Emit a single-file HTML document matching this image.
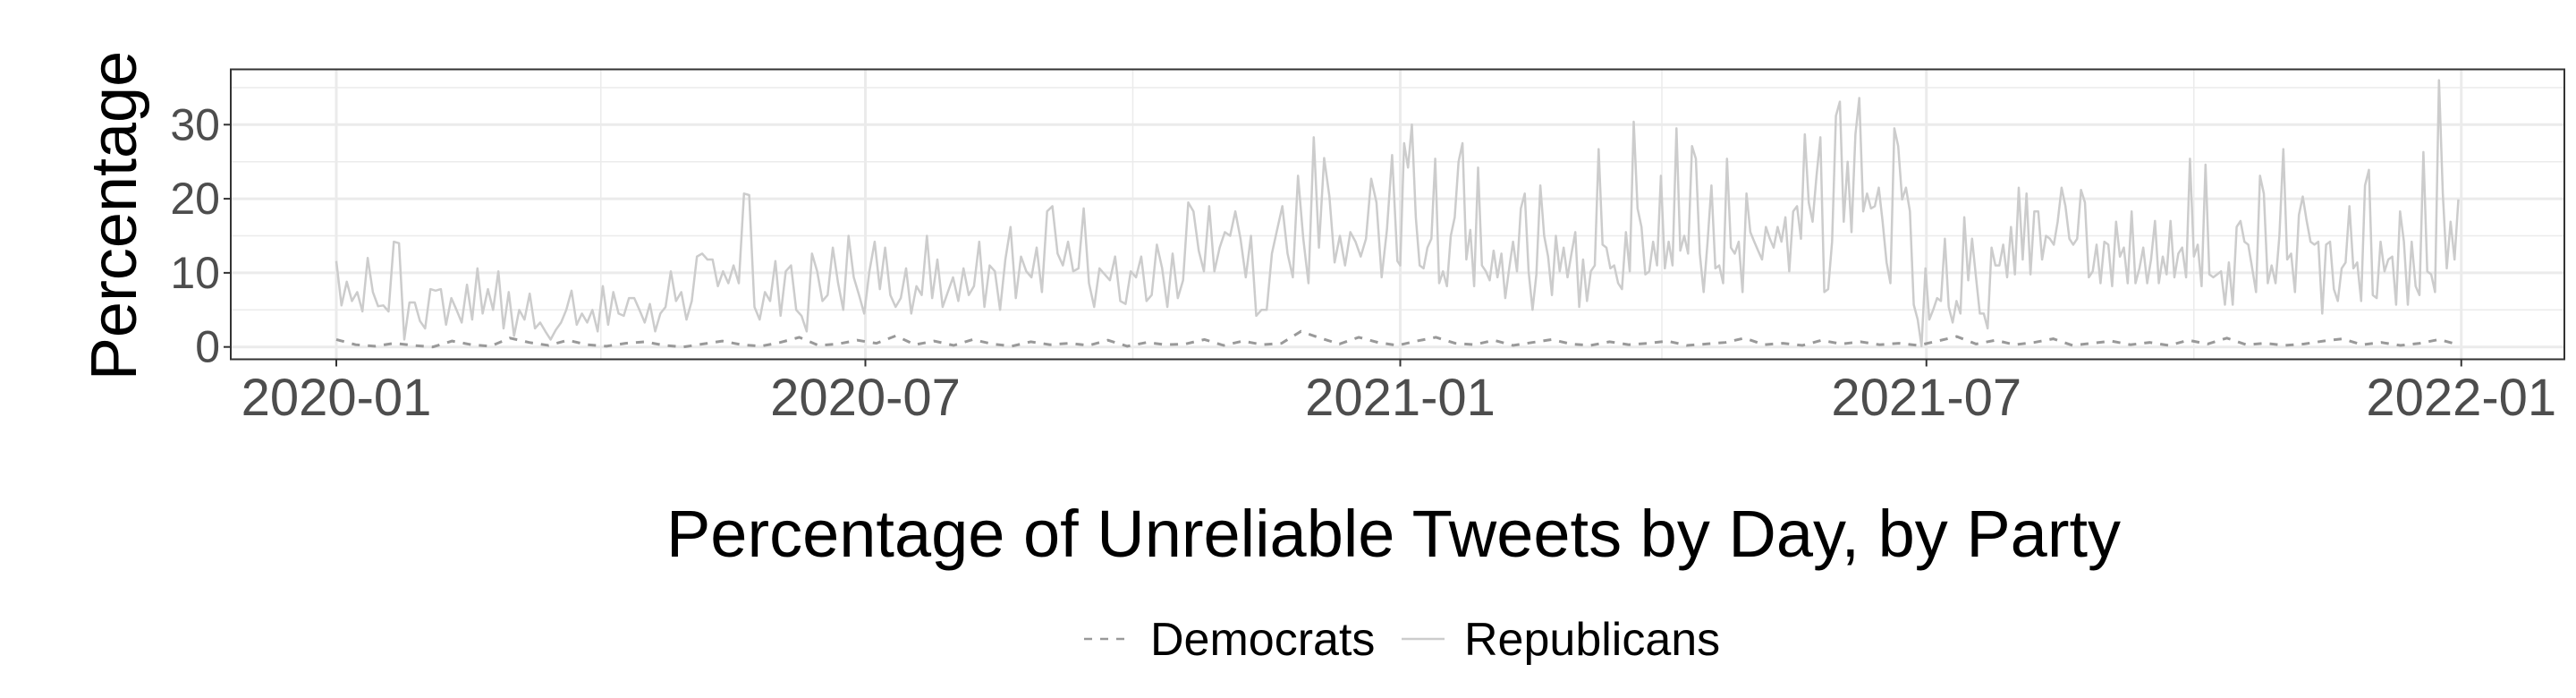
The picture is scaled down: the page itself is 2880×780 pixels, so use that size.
<!DOCTYPE html>
<html><head><meta charset="utf-8"><style>
html,body{margin:0;padding:0;background:#fff;}
svg{display:block;font-family:"Liberation Sans",Arial,sans-serif;}
</style></head><body>
<svg id="chart" width="2880" height="780" viewBox="0 0 2880 780" xmlns="http://www.w3.org/2000/svg">
<rect width="2880" height="780" fill="#fff"/>
<g id="grid"></g>
<g id="series"></g>
<rect x="258" y="77.5" width="2609" height="324" fill="none" stroke="#333" stroke-width="2"/>
<g id="axes"></g>
<text transform="translate(152,241) rotate(-90)" text-anchor="middle" font-size="72" fill="#000">Percentage</text>
<text x="1558" y="622" text-anchor="middle" font-size="74" fill="#000">Percentage of Unreliable Tweets by Day, by Party</text>
<g>
<g>
<line x1="1212" y1="714" x2="1260" y2="714" stroke="#999" stroke-width="2.5" stroke-dasharray="9 9"/>
<text x="1286" y="732" font-size="52" fill="#000">Democrats</text>
</g>
<g>
<line x1="1567" y1="714" x2="1615" y2="714" stroke="#ccc" stroke-width="2.5"/>
<text x="1637" y="732" font-size="52" fill="#000">Republicans</text>
</g>
</g>
</svg>
<script>
const yTicks = [0, 10, 20, 30];
const yMinor = [5, 15, 25, 35];
const xTickLabels = ["2020-01", "2020-07", "2021-01", "2021-07", "2022-01"];
const xTickDays = [0, 182, 366, 547, 731];
const xMinorDays = [91, 274, 456, 639];
// Republicans 2020 (days 0..365)
const rep2020 = [11.6,5.6,8.8,6.2,7.4,4.8,12,7.4,5.5,5.6,4.8,14.2,14,1,6,6,3.5,2.5,7.8,7.6,7.8,3,6.6,5,3.3,8.4,3.7,10.6,4.5,7.8,5,10.2,2.5,7.4,1.5,5,3.7,7.2,2.5,3.3,2.1,1,2.3,3.3,5,7.6,3,4.5,3.3,5,2.1,8.2,3,7.4,4.5,4.2,6.6,6.6,5,3.3,5.8,2.1,4.5,5.4,10.2,6.2,7.4,3.7,6.2,12.2,12.6,11.8,11.8,8.2,10.2,8.6,11,8.6,20.7,20.5,5.4,3.7,7.4,6.2,11.6,4.2,10.2,11,5,4.2,2.1,12.6,10.2,6.2,7,13.4,8.6,5,15,9.4,7,4.5,10.2,14.2,7.8,13.4,7,5.4,6.6,10.6,4.5,8.2,7,15,6.6,11.8,5.4,7.4,9.4,6.2,10.6,7,8.2,14.2,5.4,11,10.2,5,11.8,16.2,6.6,12.2,10.2,9.4,13.4,7.4,18.3,19,12.6,11,14.2,10.2,10.6,18.7,8.6,5.4,10.6,9.8,9,12.2,6.2,5.8,10.2,9.4,12.2,6.2,7,13.8,10.6,5.4,12.6,6.6,9,19.5,18.3,13,10.2,19,10.2,13.4,15.5,15,18.3,14.6,9.4,15,4.2,5,5,12.6,15.8,19,12.6,9.4,23.1,14.6,8.6,28.3,13.4,25.5,20.3,11.4,15,11,15.5,14.2,12.2,14.6,22.7,19.5,9.4,15.8,25.9,11.6];
// Republicans 2021 (days 366..730)
const rep2021 = [11,27.5,24.2,30,17.5,11,10.6,13.4,14.6,25.4,8.6,10.2,8.2,15,17.5,25,27.5,11.8,15.8,8.2,24.2,11,10.2,9,13,9.4,12.6,6.6,10.6,14.2,10.2,18.7,20.7,10.2,5,9.8,21.8,15,12.2,7,15,10.2,13.4,9.4,12.6,15.5,5.4,11.8,6.2,10.2,11,26.7,13.8,13.4,10.6,11,8.6,7.8,15.5,10.2,30.4,18.7,16.2,9.8,10.2,14.2,11,23.1,10.6,14.2,11,29.5,13,15,12.6,27.1,25.4,12.6,7.4,14.2,21.8,10.6,11,8.6,25.4,13.4,12.6,14.2,7.4,20.7,15.5,14.2,13,11.8,16.2,14.6,13.4,16.2,14.2,17.5,10.2,18.3,19,14.6,28.7,19.5,16.9,23.1,28.3,7.4,7.8,14.2,31.2,33.1,16.9,25,15.5,28.7,33.6,18.3,20.7,18.7,19,21.5,16.9,11.4,8.6,29.5,27.1,19.9,21.5,18.3,5.7,3.7,0.1,10.6,3.7,5,6.6,6.2,14.6,5.4,3.3,6.2,4.5,17.5,9,14.6,9.4,4.5,4.5,2.5,13.4,11,11,13.8,9.4,16.2,9.8,21.5,11.8,20.7,9.8,18.3,18.3,11.8,15,14.6,13.8,16.9,21.5,19,14.6,13.8,14.6,21.2,19.5,9.4,10.2,13.8,8.6,14.2,13.8,8.2,16.9,12.2,13.4,8.6,18.3,8.6,10.6,13.4,8.6,11.8,17,8.6,12.2,9.8,17,9.4,12.6,13.4,9.4,25.4,12.2,13.8,8.2,24.6,9.8,9.4,9.8,10.2,5.7,11.4,5.7,16.2,17,14.2,13.8,10.6,7.4,23.1,20.7,8.6,11,8.6,15,26.7,11.8,12.6,7.4,17.8,20.3,17,14.2,13.8,14.2,4.5,13.8,14.2,7.8,6.2,10.6,11.4,19,10.6,11.4,6.2,21.8,23.9,7,6.6,14.2,10.2,11.8,12.2,5.7,18.3,14.2,5.7,14.2,8.2,7,26.3,10.2,9.8,7.4,36,20.7,10.6,16.9,11.8,19.9];
// Democrats (days 0..730)
const demValues = [1,0.3,0.1,0.5,0.2,0,0.8,0.3,0.1,1.2,0.6,0.2,0.9,0.3,0.1,0.5,0.7,0.2,0,0.4,0.8,0.3,0.1,0.6,1.3,0.2,0.4,0.9,0.5,1.5,0.3,0.8,0.2,1,0.4,0.1,0.7,0.3,0.5,0.2,0.9,0.1,0.6,0.3,0.4,1,0.2,0.8,0.3,0.5,2.1,1.2,0.4,1.3,0.6,0.2,0.8,1.3,0.5,0.3,0.9,0.2,0.6,1,0.4,0.2,0.7,0.3,0.5,0.8,0.2,0.4,0.6,1.2,0.3,0.5,0.2,0.9,0.4,0.7,0.3,0.5,0.2,0.8,1.4,0.4,0.9,0.3,0.6,1.1,0.2,0.5,0.8,0.3,0.6,0.2,0.9,0.4,1.2,0.3,0.5,0.2,0.4,0.8,1.1,0.3,0.6,0.2,0.5,1,0.3];

const X0 = 376, PX_PER_DAY = 3.25, Y0 = 387.7, PX_PER_UNIT = 8.28;
function xScale(day){ return X0 + day * PX_PER_DAY; }
function yScale(v){ return Y0 - v * PX_PER_UNIT; }
const NS = "http://www.w3.org/2000/svg";
function mk(tag, attrs, parent){ const e = document.createElementNS(NS, tag); for (const k in attrs) e.setAttribute(k, attrs[k]); parent.appendChild(e); return e; }
const grid = document.getElementById('grid'), series = document.getElementById('series'), axes = document.getElementById('axes');
const PL = 258, PR = 2867, PT = 77.5, PB = 401.5;

yMinor.forEach(v => { const y = yScale(v); if (y < PT) return;
  const l = mk('line', {x1:PL, x2:PR, y1:y, y2:y, stroke:'#ebebeb', 'stroke-width':1.5}, grid);
  
   });
xMinorDays.forEach(d => { const x = xScale(d);
  const l = mk('line', {x1:x, x2:x, y1:PT, y2:PB, stroke:'#ebebeb', 'stroke-width':1.5}, grid);
  
   });
yTicks.forEach(v => { const y = yScale(v);
  const l = mk('line', {x1:PL, x2:PR, y1:y, y2:y, stroke:'#ebebeb', 'stroke-width':3}, grid);
  
  
  const t = mk('line', {x1:PL-8, x2:PL, y1:y, y2:y, stroke:'#333', 'stroke-width':2}, axes);
  
  
  const lab = mk('text', {x:PL-12, y:y+17, 'text-anchor':'end', 'font-size':50, fill:'#4d4d4d'}, axes);
  lab.textContent = v;
  
   });
xTickDays.forEach((d, i) => { const x = xScale(d);
  const l = mk('line', {x1:x, x2:x, y1:PT, y2:PB, stroke:'#ebebeb', 'stroke-width':3}, grid);
  
  
  const t = mk('line', {x1:x, x2:x, y1:PB, y2:PB+8, stroke:'#333', 'stroke-width':2}, axes);
  
  
  const lab = mk('text', {x:x, y:464, 'text-anchor':'middle', 'font-size':58, fill:'#4d4d4d'}, axes);
  lab.textContent = xTickLabels[i];
  
   });

function spread(vals, d0, d1){ const n = vals.length; return vals.map((v, i) => [xScale(d0 + i * (d1 - d0) / (n - 1)), yScale(v)]); }
function pathD(pts){ return pts.map((p, i) => (i ? 'L' : 'M') + p[0].toFixed(1) + ',' + p[1].toFixed(1)).join(''); }
const repPts = spread(rep2020, 0, 365).concat(spread(rep2021, 366, 730));
const rep = mk('path', {d:pathD(repPts), fill:'none', stroke:'#cccccc', 'stroke-width':2.5, 'stroke-linejoin':'round'}, series);


const dem = mk('path', {d:pathD(spread(demValues, 0, 730)), fill:'none', stroke:'#999999', 'stroke-width':3, 'stroke-dasharray':'9 9'}, series);


</script>
</body></html>
